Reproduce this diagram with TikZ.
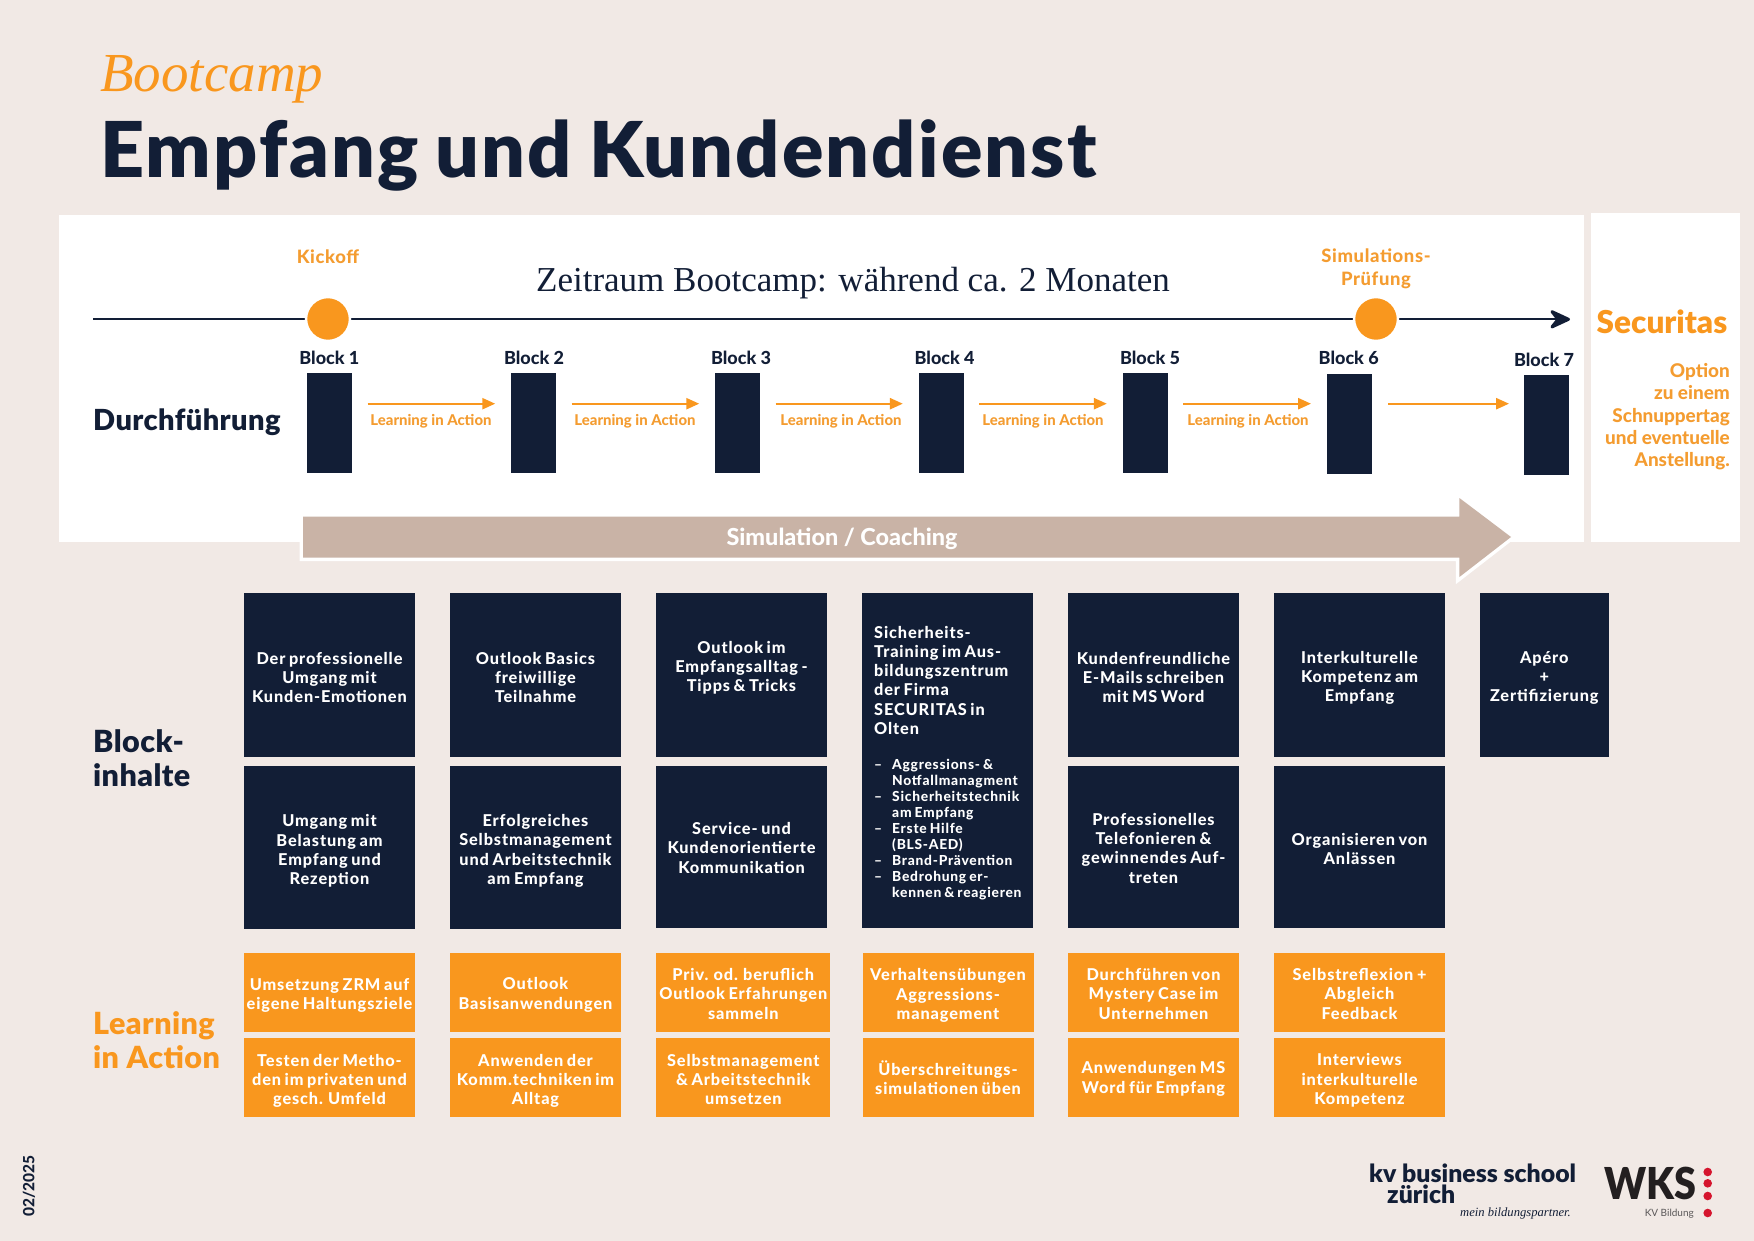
\documentclass[tikz,border=0pt]{standalone}
\usepackage{fontspec}
\setmainfont{Lato}
\newfontfamily\boxf[LetterSpace=5.4,WordSpace=0.75]{Lato Heavy}
\newfontfamily\headf{Lato Heavy}
\newfontfamily\mlabf[LetterSpace=3.5]{Lato Heavy}
\newfontfamily\blackf[LetterSpace=1.4]{Lato Black}
\newfontfamily\titlef[LetterSpace=2.8,WordSpace=0.85]{Lato Black}
\newfontfamily\logof{Lato Black}
\newfontfamily\serf{Liberation Serif}
\usetikzlibrary{arrows.meta}
\definecolor{navy}{HTML}{121E36}
\definecolor{orng}{HTML}{F9971E}
\definecolor{orngtxt}{HTML}{F49C30}
\definecolor{tan}{HTML}{C9B3A6}
\definecolor{pagebg}{HTML}{F1E9E5}
\definecolor{wksred}{HTML}{D5152E}
\definecolor{wksblack}{HTML}{231F20}
\newcommand{\fs}[2]{\fontsize{#1}{#2}\selectfont}
% invisible strut on a first line: moves a centred text block down by half of (#1 - 12pt)
\newcommand{\T}[1]{\rule{0pt}{#1pt}}
\tikzset{
 x=1pt,y=-1pt,
 panel/.style={fill=white,draw=none},
 navybox/.style={fill=navy,text=white,inner sep=0pt,align=center,font=\boxf\fs{16.3}{19.2}},
 orngbox/.style={fill=orng,text=white,inner sep=0pt,align=center,font=\boxf\fs{16.3}{19.2},minimum height=78.5pt},
 blockbar/.style={fill=navy,inner sep=0pt,minimum width=45.5pt,minimum height=99.5pt},
 blocklabel/.style={text=navy,inner sep=0pt,font=\headf\fs{18}{20}},
 liabel/.style={text=orngtxt,inner sep=0pt,font=\headf\fs{14.9}{17}},
 oarrow/.style={draw=orng,line width=2.4pt,-{Triangle[length=13pt,width=11pt]}},
 milestone/.style={circle,fill=orng,draw=white,line width=2.5pt,minimum size=44pt,inner sep=0pt},
 mlabel/.style={text=orngtxt,inner sep=0pt,align=center,font=\mlabf\fs{18.4}{23.5}},
 section/.style={text=navy,inner sep=0pt,anchor=base west,align=left,font=\blackf\fs{30.5}{34}},
 sectiono/.style={section,text=orng},
}
\begin{document}
\begin{tikzpicture}
\useasboundingbox (0,0) rectangle (1754,1241);
\fill[pagebg] (0,0) rectangle (1754,1241);
% title
\node[anchor=base west,inner sep=0pt,text=orng,font=\serf\itshape\fs{55}{60}] (sup) at (100,92) {Bootcamp};
\node[anchor=base west,inner sep=0pt,text=navy,font=\titlef\fs{77}{80}] (title) at (100,178) {Empfang und Kundendienst};
% panels
\fill[panel] (59,214.7) rectangle (1584,541.7);
\fill[panel] (1591,213) rectangle (1740,541.7);
% timeline
\coordinate (tlstart) at (93,319.3);
\coordinate (tlend) at (1570,319.3);
\draw[navy,line width=2.2pt,-{Stealth[length=25pt,width=23pt,inset=9pt,line width=3pt,round]}] (tlstart) -- (tlend);
\node[milestone] (m1) at (328,319) {};
\node[milestone] (m2) at (1376,319) {};
\node[mlabel] (kick) at (328,256.7) {Kickoff};
\node[mlabel] (simp) at (1376,269) {Simulations-\\Prüfung};
\node[anchor=base,inner sep=0pt,text=navy,font=\serf\fs{35}{36}] (zeit) at (853,292) {Zeitraum Bootcamp: während ca. 2 Monaten};
% blocks
\node[blockbar] (b1) at (329.7,423) {};
\node[blockbar] (b2) at (533.7,423) {};
\node[blockbar] (b3) at (737.7,423) {};
\node[blockbar] (b4) at (941.3,423) {};
\node[blockbar] (b5) at (1145.3,423) {};
\node[blockbar] (b6) at (1349.5,423.8) {};
\node[blockbar] (b7) at (1546.5,425) {};
\node[blocklabel] (l1) at (329.4,358) {Block 1};
\node[blocklabel] (l2) at (534,358) {Block 2};
\node[blocklabel] (l3) at (741,358) {Block 3};
\node[blocklabel] (l4) at (944.6,358) {Block 4};
\node[blocklabel] (l5) at (1150,358) {Block 5};
\node[blocklabel] (l6) at (1348.7,358) {Block 6};
\node[blocklabel] (l7) at (1544,360) {Block 7};
\coordinate (axis) at (0,403.7);
\draw[oarrow,shorten <=15pt,shorten >=15.5pt] (b1.east |- axis) -- (b2.west |- axis);
\draw[oarrow,shorten <=15pt,shorten >=15.5pt] (b2.east |- axis) -- (b3.west |- axis);
\draw[oarrow,shorten <=15pt,shorten >=15.5pt] (b3.east |- axis) -- (b4.west |- axis);
\draw[oarrow,shorten <=15pt,shorten >=15.5pt] (b4.east |- axis) -- (b5.west |- axis);
\draw[oarrow,shorten <=15pt,shorten >=15.5pt] (b5.east |- axis) -- (b6.west |- axis);
\draw[oarrow,shorten <=16pt,shorten >=14.5pt] (b6.east |- axis) -- (b7.west |- axis);
\node[liabel] (a1) at (431,421) {Learning in Action};
\node[liabel] (a2) at (635,421) {Learning in Action};
\node[liabel] (a3) at (841,421) {Learning in Action};
\node[liabel] (a4) at (1043,421) {Learning in Action};
\node[liabel] (a5) at (1248,421) {Learning in Action};
\node[section,font=\blackf\fs{29}{34}] (dur) at (93,430) {Durchführung};
% big arrow
\draw[draw=white,line width=7pt,line join=miter]
 (303,516.7) -- (1459.4,516.7) -- (1459.4,498) -- (1511,537) -- (1459.4,577) -- (1459.4,557.5) -- (303,557.5) -- cycle;
\fill[tan] (303,516.7) -- (1459.4,516.7) -- (1459.4,498) -- (1511,537) -- (1459.4,577) -- (1459.4,557.5) -- (303,557.5) -- cycle;
\node[inner sep=0pt,text=white,font=\headf\fs{23.4}{24}] (simc) at (842,539) {Simulation / Coaching};
% Securitas
\node[inner sep=0pt,text=orng,font=\logof\fs{31.5}{32},anchor=base] (sec) at (1662,334) {Securitas};
\node[inner sep=0pt,text=orngtxt,align=right,anchor=north east,font=\headf\fs{18.9}{22.4}] (opt) at (1730,363) {Option\\zu einem\\Schnuppertag\\und eventuelle\\Anstellung.};
% section labels
\node[section] (blk) at (93,786) {Block-\\inhalte};
\node[sectiono] (lia) at (93,1068) {Learning\\in Action};
% row 1
\node[navybox,minimum width=171pt,minimum height=163.7pt] (r11) at (329.5,675) {\T{17}Der professionelle\\Umgang mit\\Kunden-Emotionen};
\node[navybox,minimum width=171pt,minimum height=163.7pt] (r12) at (535.5,675) {\T{17}Outlook Basics\\freiwillige\\Teilnahme};
\node[navybox,minimum width=171pt,minimum height=163.7pt] (r13) at (741.5,675) {Outlook im\\Empfangsalltag -\\Tipps \& Tricks\rule[-17pt]{0pt}{17pt}};
\node[fill=navy,inner sep=0pt,minimum width=171pt,minimum height=334.7pt] (r14) at (947.5,760.3) {};
\node[navybox,minimum width=171pt,minimum height=163.7pt] (r15) at (1153.5,675) {\T{17}Kundenfreundliche\\E-Mails schreiben\\mit MS Word};
\node[navybox,minimum width=171pt,minimum height=163.7pt] (r16) at (1359.5,675) {\T{18}Interkulturelle\\Kompetenz am\\Empfang};
\node[navybox,minimum width=128.5pt,minimum height=163.7pt] (r17) at (1544.3,675) {\T{18}Apéro\\+\\Zertifizierung};
\node[text=white,inner sep=0pt,anchor=north west,align=left,font=\boxf\fs{16.3}{19.2}] (sec1) at (874,626) {Sicherheits-\\Training im Aus-\\bildungszentrum\\der Firma\\SECURITAS in\\Olten};
\node[text=white,inner sep=0pt,anchor=north west,align=left,font=\boxf\fs{13.8}{16}] (sec2) at (874,758.5) {\makebox[18pt][l]{–}Aggressions- \&\\\makebox[18pt][l]{}Notfallmanagment\\\makebox[18pt][l]{–}Sicherheitstechnik\\\makebox[18pt][l]{}am Empfang\\\makebox[18pt][l]{–}Erste Hilfe\\\makebox[18pt][l]{}(BLS-AED)\\\makebox[18pt][l]{–}Brand-Prävention\\\makebox[18pt][l]{–}Bedrohung er-\\\makebox[18pt][l]{}kennen \& reagieren};
% row 2
\node[navybox,minimum width=171pt,minimum height=163pt] (r21) at (329.5,847.5) {\T{19}Umgang mit\\Belastung am\\Empfang und\\Rezeption};
\node[navybox,minimum width=171pt,minimum height=163pt] (r22) at (535.5,847.5) {\T{19}Erfolgreiches\\Selbstmanagement\\und Arbeitstechnik\\am Empfang};
\node[navybox,minimum width=171pt,minimum height=162pt] (r23) at (741.5,847) {\T{14}Service- und\\Kundenorientierte\\Kommunikation};
\node[navybox,minimum width=171pt,minimum height=162pt] (r25) at (1153.5,846.8) {\T{15}Professionelles\\Telefonieren \&\\gewinnendes Auf-\\treten};
\node[navybox,minimum width=171pt,minimum height=162pt] (r26) at (1359.5,846.8) {\T{16.5}Organisieren von\\Anlässen};
% orange rows
\node[orngbox,minimum width=171pt] (o11) at (329.5,992.5) {\T{18}Umsetzung ZRM auf\\eigene Haltungsziele};
\node[orngbox,minimum width=171pt] (o12) at (535.5,992.5) {\T{17}Outlook\\Basisanwendungen};
\node[orngbox,minimum width=174pt] (o13) at (743.3,992.5) {\T{15}Priv. od. beruflich\\Outlook Erfahrungen\\sammeln};
\node[orngbox,minimum width=171pt] (o14) at (948,992.5) {\T{18}Verhaltensübungen\\Aggressions-\\management};
\node[orngbox,minimum width=171pt] (o15) at (1153.5,992.5) {\T{15}Durchführen von\\Mystery Case im\\Unternehmen};
\node[orngbox,minimum width=171pt] (o16) at (1359.5,992.5) {\T{15}Selbstreflexion +\\Abgleich\\Feedback};
\node[orngbox,minimum width=171pt] (o21) at (329.5,1077.5) {\T{19}Testen der Metho-\\den im privaten und\\gesch. Umfeld};
\node[orngbox,minimum width=171pt] (o22) at (535.5,1077.5) {\T{19}Anwenden der\\Komm.techniken im\\Alltag};
\node[orngbox,minimum width=174pt] (o23) at (743.3,1077.5) {\T{16}Selbstmanagement\\\& Arbeitstechnik\\umsetzen};
\node[orngbox,minimum width=171pt] (o24) at (948,1077.5) {\T{14}Überschreitungs-\\simulationen üben};
\node[orngbox,minimum width=171pt] (o25) at (1153.5,1077.5) {\T{15}Anwendungen MS\\Word für Empfang};
\node[orngbox,minimum width=171pt] (o26) at (1359.5,1077.5) {\T{18}Interviews\\interkulturelle\\Kompetenz};
% footer
\node[rotate=90,inner sep=0pt,text=navy,font=\headf\fs{15.5}{16}] (date) at (29,1186) {02/2025};
\node[anchor=base west,inner sep=0pt,text=navy,font=\logof\fs{24.8}{27}] (kv1) at (1369,1182.7) {kv business school};
\node[anchor=base west,inner sep=0pt,text=navy,font=\logof\fs{24.8}{27}] (kv2) at (1387,1203) {zürich};
\node[anchor=base west,inner sep=0pt,text=navy,font=\serf\itshape\fs{12.6}{15}] (kv3) at (1460,1216) {mein bildungspartner.};
\node[anchor=base west,inner sep=0pt,text=wksblack,font=\logof\fs{44}{46}] (wks) at (1604,1199) {\scalebox{0.9}[1]{WKS}};
\node[anchor=base east,inner sep=0pt,text=wksblack!75,font=\rmfamily\fs{10}{12}] (wks2) at (1694,1216) {KV Bildung};
\fill[wksred] (1707.7,1172) circle (4.3pt) (1707.7,1183.3) circle (4.3pt) (1707.7,1196) circle (4.3pt) (1707.7,1213) circle (4.3pt);
\end{tikzpicture}
\end{document}
